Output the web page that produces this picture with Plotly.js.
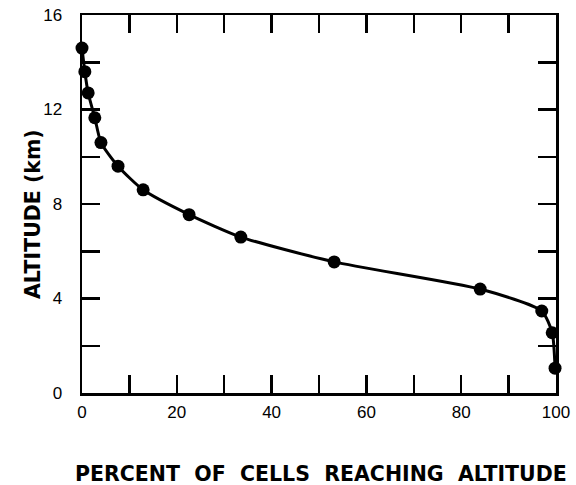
<!DOCTYPE html>
<html>
<head>
<meta charset="utf-8">
<script src="https://cdn.plot.ly/plotly-3.0.1.min.js"></script>
<style>html,body{margin:0;padding:0;background:#fff;}#chart{width:576px;height:485px;}</style>
</head>
<body>
<div id="chart"></div>
<script>
const percentCells = [0, 0.6, 1.3, 2.7, 4.0, 7.6, 12.9, 22.6, 33.5, 53.2, 84.0, 97.0, 99.2, 99.8];
const altitudeKm   = [14.6, 13.6, 12.7, 11.65, 10.6, 9.6, 8.6, 7.55, 6.6, 5.55, 4.4, 3.47, 2.55, 1.05];
const xTickVals = [0, 10, 20, 30, 40, 50, 60, 70, 80, 90, 100];
const xTickText = ['0', '', '20', '', '40', '', '60', '', '80', '', '100'];
const yTickVals = [0, 2, 4, 6, 8, 10, 12, 14, 16];
const yTickText = ['0', '', '4', '', '8', '', '12', '', '16'];
const xTitle = 'PERCENT\u00A0 OF\u00A0 CELLS\u00A0 REACHING\u00A0 ALTITUDE';
const yTitle = 'ALTITUDE (km)';

const trace = {
  x: percentCells, y: altitudeKm,
  type: 'scatter', mode: 'lines+markers',
  line: {color: '#000', width: 3, shape: 'spline', smoothing: 0.6},
  marker: {color: '#000', size: 13},
  cliponaxis: false
};
const tickFont = {family: 'Liberation Sans, Arial, sans-serif', size: 17, color: '#000'};
const titleFont = {family: 'DejaVu Sans, sans-serif', size: 20.5, color: '#000', weight: 'bold'};
const axisCommon = {
  showgrid: false, zeroline: false, showline: true, linecolor: '#000', linewidth: 2.5,
  mirror: 'allticks', ticks: 'inside', ticklen: 18, tickwidth: 2.5, tickcolor: '#000',
  tickfont: tickFont, tickmode: 'array', fixedrange: true
};
const layout = {
  width: 576, height: 485,
  margin: {l: 82, r: 20, t: 15, b: 92},
  paper_bgcolor: '#fff', plot_bgcolor: '#fff',
  showlegend: false,
  xaxis: Object.assign({}, axisCommon, {
    range: [0, 100], tickvals: xTickVals, ticktext: xTickText, ticklabelstandoff: 2
  }),
  yaxis: Object.assign({}, axisCommon, {
    range: [0, 16], tickvals: yTickVals, ticktext: yTickText, ticklabelstandoff: 14
  }),
  annotations: [
    {text: xTitle, xref: 'paper', yref: 'paper', x: 0.5, y: 0, xshift: 2, yshift: -81,
     xanchor: 'center', yanchor: 'middle', showarrow: false, font: titleFont},
    {text: yTitle, xref: 'paper', yref: 'paper', x: 0, y: 0.5, xshift: -49, yshift: -10,
     xanchor: 'center', yanchor: 'middle', textangle: -90, showarrow: false, font: titleFont}
  ]
};
Plotly.newPlot('chart', [trace], layout, {displayModeBar: false, staticPlot: true});
</script>
</body>
</html>
